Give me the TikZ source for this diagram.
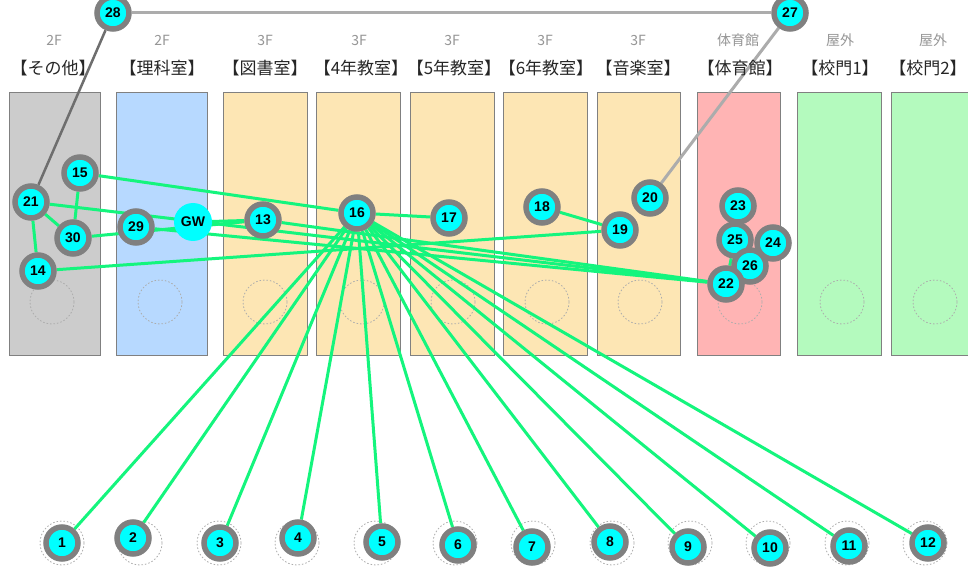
\documentclass[tikz,border=0pt]{standalone}
\usepackage{fontspec}
\setsansfont{Liberation Sans}
\newfontfamily\jp{Noto Sans CJK JP}
\definecolor{cGray}{RGB}{204,204,204}
\definecolor{cBlue}{RGB}{183,217,255}
\definecolor{cTan}{RGB}{253,230,180}
\definecolor{cPink}{RGB}{255,180,180}
\definecolor{cGreen}{RGB}{180,250,190}
\definecolor{ring}{RGB}{128,128,128}
\definecolor{aqua}{RGB}{0,255,255}
\definecolor{lnk}{RGB}{20,245,125}
\definecolor{lgray}{RGB}{172,172,172}
\definecolor{dgray}{RGB}{110,110,110}
\definecolor{hdr}{RGB}{150,150,150}
\pgfdeclarelayer{bg}
\pgfdeclarelayer{edges}
\pgfsetlayers{bg,edges,main}
\tikzset{
  nd/.style={circle, fill=aqua, draw=ring, line width=5.5pt, minimum size=32pt, inner sep=0pt,
    font=\sffamily\bfseries\fontsize{14}{14}\selectfont},
  gw/.style={circle, fill=aqua, minimum size=38pt, inner sep=0pt,
    font=\sffamily\bfseries\fontsize{14}{14}\selectfont},
  colbox/.style={draw=ring, line width=1pt},
  slot/.style={draw=lgray, line width=0.8pt, dash pattern=on 1.5pt off 2pt},
  link/.style={draw=lnk, line width=3pt},
  floorlbl/.style={text=hdr, font=\jp\fontsize{14}{14}\selectfont},
  roomlbl/.style={text=black!85, font=\jp\fontsize{17}{17}\selectfont, inner sep=0pt}
}
\begin{document}
\begin{tikzpicture}[x=1pt,y=-1pt]
\useasboundingbox (0,0) rectangle (968,569);
\clip (0,0) rectangle (968,569);

% columns
\begin{pgfonlayer}{bg}
\fill[white] (0,0) rectangle (968,569);
\foreach \a/\b/\c/\d in {9/100/cGray/52, 116/207/cBlue/160, 223/307/cTan/265, 316/400/cTan/362,
  410/494/cTan/453, 503/587/cTan/547, 597/680/cTan/640, 697/780/cPink/740, 797/881/cGreen/842, 891/975/cGreen/935}{
  \path[colbox, fill=\c] (\a,93) rectangle (\b,355);
  \path[slot] (\d,302) circle (22);
}
\foreach \x in {62,140,219,297,376,455,533,612,690,768,847,925}{
  \path[slot] (\x,543) circle (22);
}
\end{pgfonlayer}

% headers
\node[floorlbl] (f1) at (54,40) {2F};
\node[floorlbl] (f2) at (162,40) {2F};
\node[floorlbl] (f3) at (265,40) {3F};
\node[floorlbl] (f4) at (359,40) {3F};
\node[floorlbl] (f5) at (452,40) {3F};
\node[floorlbl] (f6) at (545,40) {3F};
\node[floorlbl] (f7) at (638,40) {3F};
\node[floorlbl] (f8) at (738,40) {体育館};
\node[floorlbl] (f9) at (840,40) {屋外};
\node[floorlbl] (f10) at (933,40) {屋外};
\node[roomlbl] (r1) at (53,68) {【その他】};
\node[roomlbl] (r2) at (162,68) {【理科室】};
\node[roomlbl] (r3) at (265,68) {【図書室】};
\node[roomlbl] (r4) at (361,68) {【4年教室】};
\node[roomlbl] (r5) at (454,68) {【5年教室】};
\node[roomlbl] (r6) at (546,68) {【6年教室】};
\node[roomlbl] (r7) at (638,68) {【音楽室】};
\node[roomlbl] (r8) at (740,68) {【体育館】};
\node[roomlbl] (r9) at (840,68) {【校門1】};
\node[roomlbl] (r10) at (928,68) {【校門2】};

% nodes
\node[nd] (n28) at (113,13) {28};
\node[nd] (n27) at (790,13) {27};
\node[nd] (n15) at (80,173) {15};
\node[nd] (n21) at (31,202) {21};
\node[nd] (n30) at (73,238) {30};
\node[nd] (n14) at (38,271) {14};
\node[nd] (n29) at (136,227) {29};
\node[gw] (gw) at (193,222) {GW};
\node[nd] (n13) at (263,220) {13};
\node[nd] (n16) at (357,213) {16};
\node[nd] (n17) at (449,218) {17};
\node[nd] (n18) at (542,207) {18};
\node[nd] (n19) at (620,230) {19};
\node[nd] (n20) at (650,198) {20};
\node[nd] (n23) at (738,206) {23};
\node[nd] (n24) at (773,243) {24};
\node[nd] (n25) at (735,240) {25};
\node[nd] (n26) at (750,266) {26};
\node[nd] (n22) at (726,284) {22};
\node[nd] (n1) at (62,543) {1};
\node[nd] (n2) at (133,538) {2};
\node[nd] (n3) at (220,543) {3};
\node[nd] (n4) at (298,538) {4};
\node[nd] (n5) at (382,542) {5};
\node[nd] (n6) at (458,545) {6};
\node[nd] (n7) at (532,547) {7};
\node[nd] (n8) at (610,542) {8};
\node[nd] (n9) at (688,547) {9};
\node[nd] (n10) at (770,548) {10};
\node[nd] (n11) at (849,546) {11};
\node[nd] (n12) at (928,543) {12};

% connectors
\begin{pgfonlayer}{edges}
\draw[lgray, line width=3pt] (n28) -- (n27);
\draw[lgray, line width=3pt] (n27) -- (n20);
\draw[dgray, line width=2.5pt] (n28) -- (n21);
\draw[link] (n21) -- (n30);
\draw[link] (n15) -- (n30);
\draw[link] (n21) -- (n14);
\draw[link] (n15) -- (n16);
\draw[link] (n21) -- (n22);
\draw[link] (n30) -- (n13);
\draw[link] (gw) -- (n13);
\draw[link] (n29) -- (n22);
\draw[link] (n13) -- (n22);
\draw[link] (n14) -- (n19);
\draw[link] (n18) -- (n19);
\draw[link] (n16) -- (n17);
\draw[link] (n25) -- (n22);
\foreach \i in {1,...,12}{
  \draw[link] (n16) -- (n\i);
}
\end{pgfonlayer}
\end{tikzpicture}
\end{document}
